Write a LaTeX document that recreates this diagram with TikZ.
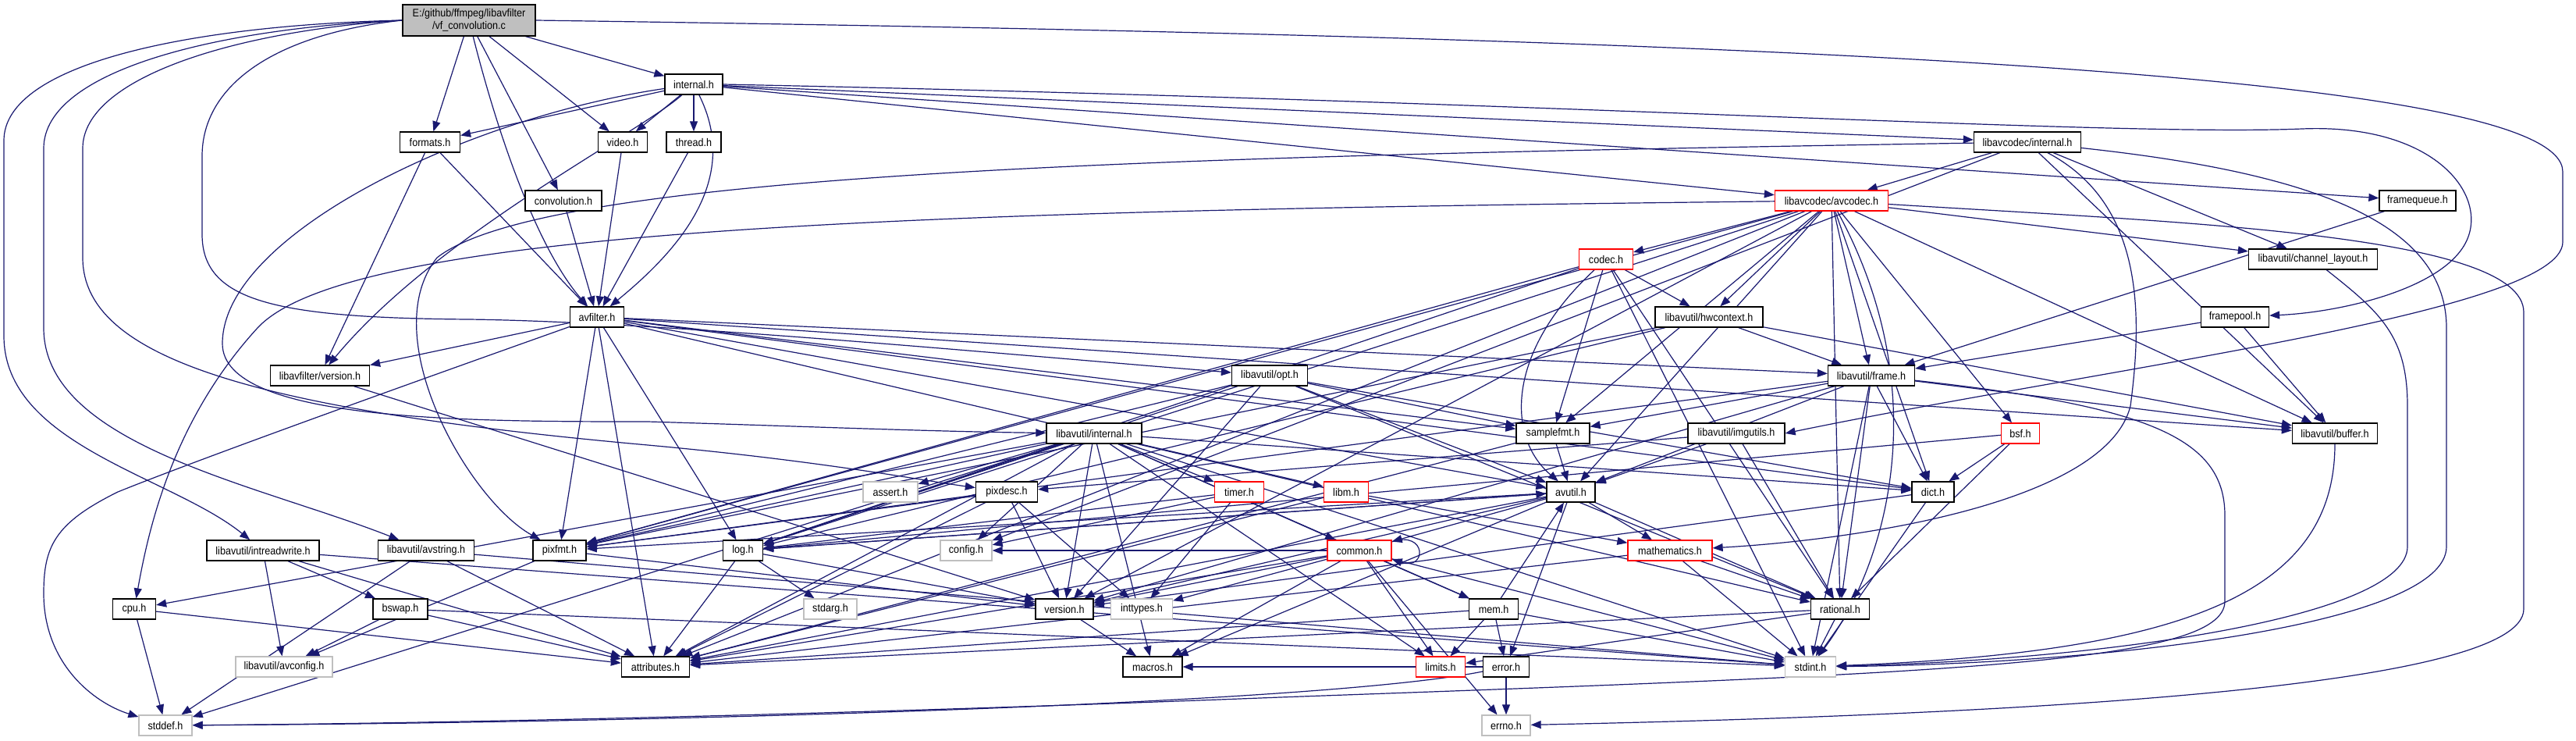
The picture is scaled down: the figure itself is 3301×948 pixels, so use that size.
\documentclass[tikz,border=0pt]{standalone}
\usepackage{fontspec}
\newfontfamily\dfont{Liberation Sans}[FakeStretch=0.9]
\usetikzlibrary{arrows.meta}
\definecolor{eb}{HTML}{191970}
\definecolor{gb}{HTML}{BFBFBF}
\pgfdeclarelayer{edges}
\pgfsetlayers{edges,main}
\begin{document}
\begin{tikzpicture}[x=1pt,y=-1pt,
  nd/.style={draw=black, fill=white, line width=1.3pt, minimum height=26pt, inner sep=1pt, font=\dfont\fontsize{14}{16}\selectfont},
  rd/.style={nd, draw=red},
  gy/.style={nd, draw=gb},
  ed/.style={draw=eb, line width=1.2pt, -{Triangle[length=13pt,width=10pt]}}]
\useasboundingbox (0,0) rectangle (3301,948);
% nodes
\node[nd, minimum width=170pt, minimum height=40pt, fill=gb, align=center] (vfc) at (601,26) {E:/github/ffmpeg/libavfilter\\/vf\_convolution.c};
\node[nd, minimum width=74pt] (internal) at (889,108) {internal.h};
\node[nd, minimum width=77pt] (formats) at (551,182) {formats.h};
\node[nd, minimum width=63pt] (video) at (798,182) {video.h};
\node[nd, minimum width=70pt] (thread) at (889,182) {thread.h};
\node[nd, minimum width=137pt] (lavcint) at (2598,182) {libavcodec/internal.h};
\node[nd, minimum width=98pt] (convolution) at (722,257) {convolution.h};
\node[rd, minimum width=145pt] (avcodec) at (2347,257) {libavcodec/avcodec.h};
\node[nd, minimum width=98pt] (framequeue) at (3098,257) {framequeue.h};
\node[rd, minimum width=69pt] (codec) at (2058,332) {codec.h};
\node[nd, minimum width=165pt] (chlayout) at (2964,332) {libavutil/channel\_layout.h};
\node[nd, minimum width=69pt] (avfilter) at (765,406) {avfilter.h};
\node[nd, minimum width=138pt] (hwcontext) at (2190,406) {libavutil/hwcontext.h};
\node[nd, minimum width=87pt] (framepool) at (2864,406) {framepool.h};
\node[nd, minimum width=127pt] (lavfver) at (410,481) {libavfilter/version.h};
\node[nd, minimum width=97pt] (opt) at (1627,481) {libavutil/opt.h};
\node[nd, minimum width=111pt] (frame) at (2398,481) {libavutil/frame.h};
\node[nd, minimum width=122pt] (lavuint) at (1402,555) {libavutil/internal.h};
\node[nd, minimum width=94pt] (samplefmt) at (1990,555) {samplefmt.h};
\node[nd, minimum width=124pt] (imgutils) at (2225,555) {libavutil/imgutils.h};
\node[rd, minimum width=49pt] (bsf) at (2589,555) {bsf.h};
\node[nd, minimum width=109pt] (buffer) at (2992,555) {libavutil/buffer.h};
\node[gy, minimum width=70pt] (assert) at (1141,630) {assert.h};
\node[nd, minimum width=79pt] (pixdesc) at (1290,630) {pixdesc.h};
\node[rd, minimum width=63pt] (timer) at (1588,630) {timer.h};
\node[rd, minimum width=57pt] (libm) at (1725,630) {libm.h};
\node[nd, minimum width=62pt] (avutil) at (2013,630) {avutil.h};
\node[nd, minimum width=54pt] (dict) at (2477,630) {dict.h};
\node[nd, minimum width=144pt] (intrw) at (337,705) {libavutil/intreadwrite.h};
\node[nd, minimum width=123pt] (avstring) at (546,705) {libavutil/avstring.h};
\node[nd, minimum width=68pt] (pixfmt) at (717,705) {pixfmt.h};
\node[nd, minimum width=51pt] (log) at (952,705) {log.h};
\node[gy, minimum width=66pt] (config) at (1238,705) {config.h};
\node[rd, minimum width=82pt] (common) at (1742,705) {common.h};
\node[rd, minimum width=108pt] (math) at (2140,705) {mathematics.h};
\node[nd, minimum width=55pt] (cpu) at (172,780) {cpu.h};
\node[nd, minimum width=70pt] (bswap) at (513,780) {bswap.h};
\node[gy, minimum width=68pt] (stdarg) at (1064,780) {stdarg.h};
\node[nd, minimum width=74pt] (version) at (1364,780) {version.h};
\node[gy, minimum width=79pt] (inttypes) at (1463,780) {inttypes.h};
\node[nd, minimum width=63pt] (mem) at (1914,780) {mem.h};
\node[nd, minimum width=75pt] (rational) at (2358,780) {rational.h};
\node[gy, minimum width=124pt] (avconfig) at (364,854) {libavutil/avconfig.h};
\node[nd, minimum width=87pt] (attributes) at (840,854) {attributes.h};
\node[nd, minimum width=76pt] (macros) at (1477,854) {macros.h};
\node[rd, minimum width=63pt] (limits) at (1846,854) {limits.h};
\node[nd, minimum width=59pt] (error) at (1930,854) {error.h};
\node[gy, minimum width=65pt] (stdint) at (2320,854) {stdint.h};
\node[gy, minimum width=68pt] (stddef) at (212,929) {stddef.h};
\node[gy, minimum width=62pt] (errno) at (1930,929) {errno.h};
% edges
\begin{pgfonlayer}{edges}
\fill[white] (0,0) rectangle (3301,948);
\draw[ed] (vfc.west) .. controls (250,32) and (5,80) .. (5,180) -- (5,430) .. controls (5,570) and (220,610) .. (intrw);
\draw[ed] (vfc.west) .. controls (280,36) and (56,90) .. (56,190) -- (56,420) .. controls (56,570) and (330,620) .. (avstring);
\draw[ed] (vfc.west) .. controls (300,40) and (106,100) .. (106,190) -- (106,330) .. controls (106,460) and (330,525) .. (830,570) .. controls (1050,590) and (1180,615) .. (pixdesc);
\draw[ed] (vfc.west) .. controls (350,44) and (259,110) .. (259,200) -- (259,300) .. controls (259,385) and (350,407) .. (600,409) .. controls (850,412) and (1300,455) .. (opt);
\draw[ed] (vfc.east) .. controls (2400,50) and (3284,100) .. (3284,220) -- (3284,310) .. controls (3284,400) and (2700,470) .. (imgutils.east);
\draw[ed] (vfc) .. controls (640,180) and (690,320) .. (avfilter);
\draw[ed] (internal) .. controls (950,230) and (870,320) .. (avfilter);
\draw[ed] (internal) .. controls (820,170) and (560,300) .. (lavfver);
\draw[ed] (internal) .. controls (600,150) and (285,300) .. (285,440) .. controls (285,540) and (600,540) .. (830,540) .. controls (1000,545) and (1200,553) .. (lavuint);
\draw[ed] (internal.east) .. controls (2000,130) and (2700,175) .. (2950,165) .. controls (3120,158) and (3190,250) .. (3160,310) .. controls (3130,370) and (3000,400) .. (framepool);
\draw[ed] (avfilter) .. controls (500,500) and (250,590) .. (151,630) .. controls (70,670) and (56,700) .. (56,760) .. controls (56,850) and (120,900) .. (stddef);
\draw[ed] (lavcint) .. controls (2746,260) and (2746,400) .. (2730,520) .. controls (2700,640) and (2400,690) .. (math);
\draw[ed] (lavcint) .. controls (2950,220) and (3135,280) .. (3135,420) -- (3135,700) .. controls (3135,800) and (2700,850) .. (stdint);
\draw[ed] (lavcint) .. controls (1500,200) and (700,220) .. (560,330) .. controls (480,430) and (600,640) .. (pixfmt);
\draw[ed] (chlayout) .. controls (3050,400) and (3085,430) .. (3085,520) -- (3085,700) .. controls (3085,790) and (2700,845) .. (stdint);
\draw[ed] (avcodec) .. controls (2800,285) and (3234,300) .. (3234,400) -- (3234,780) .. controls (3234,880) and (2600,915) .. (errno);
\draw[ed] (avcodec) .. controls (2480,500) and (2420,720) .. (stdint);
\draw[ed] (avcodec) .. controls (1200,270) and (450,290) .. (330,420) .. controls (220,540) and (190,680) .. (cpu);
\draw[ed] (frame) .. controls (2750,520) and (2851,560) .. (2851,660) -- (2851,770) .. controls (2851,850) and (2500,862) .. (1640,893) .. controls (1000,918) and (500,927) .. (stddef);
\draw[ed] (buffer) .. controls (2992,760) and (2800,835) .. (stdint);
\draw[ed] (error) .. controls (1700,900) and (900,925) .. (stddef);
\draw[ed] (codec) .. controls (1930,450) and (1930,560) .. (avutil);
\draw[ed] (common.15) .. controls +(45,-15) and +(45,15) .. (common.-15);
\foreach \a/\b in {vfc/formats, vfc/convolution, vfc/video, vfc/internal,
 internal/formats, internal/video, internal/thread, internal/avcodec, internal/lavcint, internal/framequeue,
 formats/avfilter, formats/lavfver, video/avfilter, thread/avfilter, convolution/avfilter,
 avfilter/lavfver, avfilter/attributes, avfilter/log, avfilter/pixfmt, avfilter/avutil, avfilter/buffer, avfilter/dict, avfilter/frame, avfilter/samplefmt, avfilter/rational,
 lavfver/version,
 lavcint/avcodec, lavcint/chlayout, lavcint/buffer, lavcint/config,
 avcodec/codec, avcodec/hwcontext, avcodec/samplefmt, avcodec/avutil, avcodec/frame, avcodec/dict, avcodec/bsf, avcodec/rational, avcodec/buffer, avcodec/chlayout, avcodec/log, avcodec/pixfmt, avcodec/attributes, avcodec/version,
 codec/hwcontext, codec/samplefmt, codec/log, codec/pixfmt, codec/rational, codec/stdint,
 hwcontext/buffer, hwcontext/frame, hwcontext/log, hwcontext/pixfmt,
 frame/stdint, frame/avutil, frame/buffer, frame/dict, frame/rational, frame/samplefmt, frame/pixfmt, frame/version,
 framequeue/frame, framepool/buffer, framepool/frame,
 opt/rational, opt/avutil, opt/dict, opt/log, opt/pixfmt, opt/samplefmt, opt/version,
 imgutils/avutil, imgutils/pixdesc, imgutils/rational,
 samplefmt/avutil, samplefmt/attributes,
 bsf/dict, bsf/log, bsf/rational,
 lavuint/assert, lavuint/timer, lavuint/libm, lavuint/limits, lavuint/stdint, lavuint/stddef, lavuint/config, lavuint/attributes, lavuint/cpu, lavuint/dict, lavuint/macros, lavuint/mem, lavuint/pixfmt, lavuint/version, lavuint/common, lavuint/log,
 pixdesc/inttypes, pixdesc/attributes, pixdesc/pixfmt, pixdesc/version,
 timer/config, timer/inttypes, timer/log,
 libm/attributes, libm/math,
 avutil/common, avutil/error, avutil/version, avutil/macros, avutil/math, avutil/rational, avutil/log, avutil/pixfmt, avutil/attributes,
 dict/stdint, dict/version,
 intrw/stdint, intrw/avconfig, intrw/attributes, intrw/bswap,
 avstring/stddef, avstring/stdint, avstring/attributes,
 pixfmt/avconfig, pixfmt/version,
 log/stdarg, log/attributes, log/version, log/avutil,
 common/errno, common/inttypes, common/limits, common/stdint, common/attributes, common/macros, common/version, common/config, common/mem,
 math/stdint, math/attributes, math/rational,
 cpu/stddef, cpu/attributes,
 bswap/avconfig, bswap/attributes, bswap/stdint,
 version/macros,
 mem/limits, mem/stdint, mem/attributes, mem/error, mem/avutil,
 rational/stdint, rational/limits, rational/attributes,
 error/errno, error/macros}
 \draw[ed] (\a) -- (\b);
\end{pgfonlayer}
\end{tikzpicture}
\end{document}
